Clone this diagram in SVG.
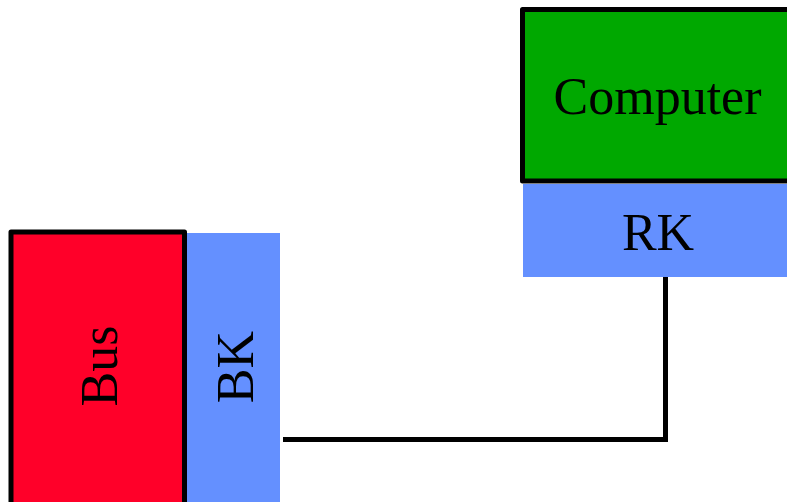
<svg xmlns="http://www.w3.org/2000/svg" width="787" height="502" viewBox="0 0 787 502">
  <style>
    .lbl { font-family: "Liberation Serif", "Times New Roman", serif; font-size: 52px; fill: #000; text-anchor: middle; }
    .box { stroke: #000; stroke-width: 5; stroke-linejoin: round; }
    .port { fill: #6490FF; }
    .wire { fill: none; stroke: #000; stroke-width: 5; }
  </style>
  <rect width="787" height="502" fill="#fff"/>

  <g id="bus">
    <rect class="box" x="11" y="232" width="173.5" height="290" fill="#FF0029"/>
    <text class="lbl" transform="translate(117,366) rotate(-90)">Bus</text>
  </g>

  <g id="bk">
    <rect class="port" x="187" y="233" width="93" height="280"/>
    <text class="lbl" transform="translate(253,367) rotate(-90)">BK</text>
  </g>

  <g id="computer">
    <rect class="box" x="522.5" y="9.5" width="290" height="171.5" fill="#00A800"/>
    <text class="lbl" x="657.5" y="114">Computer</text>
  </g>

  <g id="rk">
    <rect class="port" x="523" y="184" width="280" height="93"/>
    <text class="lbl" x="658" y="250">RK</text>
  </g>

  <g id="connectors">
    <polyline class="wire" points="283,439.5 665.5,439.5 665.5,277"/>
  </g>
</svg>
